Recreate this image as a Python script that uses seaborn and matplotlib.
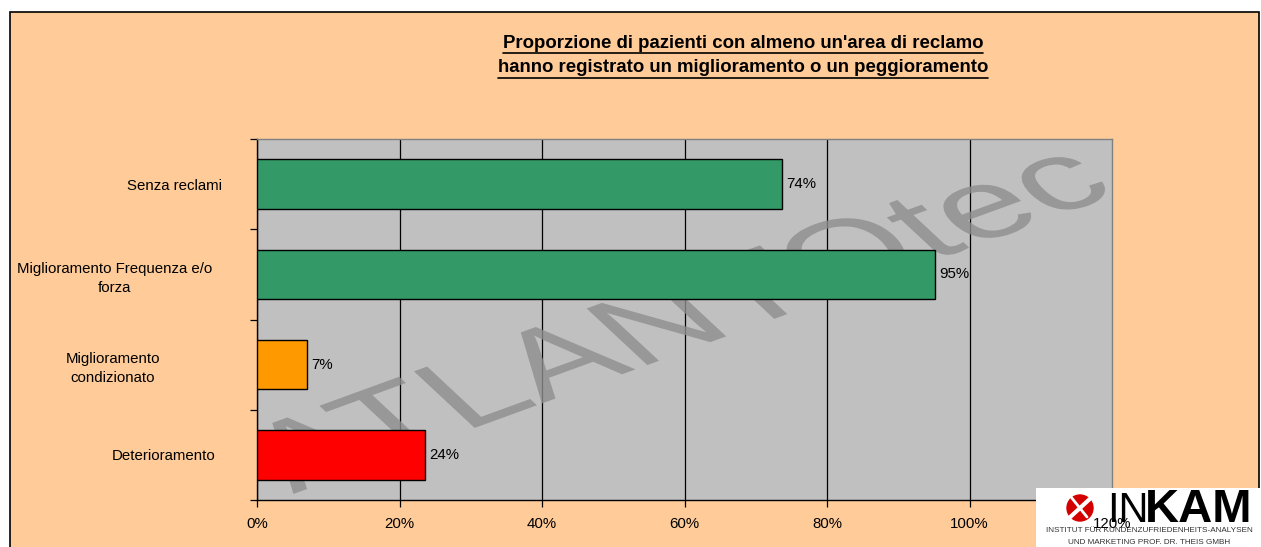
import seaborn as sns
import pandas as pd
import matplotlib.pyplot as plt
import matplotlib.transforms as mtransforms
from matplotlib.patches import Rectangle, Circle, PathPatch
from matplotlib.lines import Line2D
from matplotlib.textpath import TextPath
from matplotlib.font_manager import FontProperties

# ---------------------------------------- Data ---------------------------------------- #
categories = ["Senza reclami", "Miglioramento Frequenza e/o\nforza",
              "Miglioramento\ncondizionato", "Deterioramento"]
values = [0.737, 0.952, 0.070, 0.236]
bar_colors = ["#339966", "#339966", "#FF9900", "#FF0000"]
x_ticks = [0.0, 0.2, 0.4, 0.6, 0.8, 1.0, 1.2]
title_lines = ["Proporzione di pazienti con almeno un'area di reclamo",
               "hanno registrato un miglioramento o un peggioramento"]
watermark = "ATLANTOtec"
logo_lines = ["INSTITUT FÜR KUNDENZUFRIEDENHEITS-ANALYSEN",
              "UND MARKETING PROF. DR. THEIS GMBH"]

W, H = 1261, 547
fs = 10.8

sns.set_style("white")
plt.rcParams['font.family'] = ['Liberation Sans', 'DejaVu Sans']
plt.rcParams['text.color'] = 'black'
plt.rcParams['xtick.labelcolor'] = 'black'
plt.rcParams['ytick.labelcolor'] = 'black'

fig = plt.figure(figsize=(W / 100, H / 100), dpi=100)
fig.patch.set_facecolor("white")

# peach frame
fig.add_artist(Rectangle((10 / W, -0.05), 1249 / W, 1 - 12 / H + 0.05, transform=fig.transFigure,
                         facecolor="#FFCC99", edgecolor="black", lw=1.2, zorder=-10))

ax = fig.add_axes([257 / W, 47 / H, 855 / W, 361 / H])
ax.set_facecolor("#C0C0C0")

df = pd.DataFrame({"categoria": categories, "valore": values})
sns.barplot(data=df, y="categoria", x="valore", hue="categoria", palette=bar_colors,
            legend=False, width=0.55, edgecolor="black", linewidth=1, saturation=1,
            ax=ax, zorder=3)

for c in ax.containers:
    ax.bar_label(c, labels=["{:.0%}".format(v) for v in c.datavalues], padding=3, fontsize=fs)

ax.set_xlim(0, 1.2)
ax.set_ylim(3.5, -0.5)
ax.set_xticks(x_ticks[:-1])
ax.set_xticklabels(["{:.0%}".format(v) for v in x_ticks[:-1]], fontsize=fs)
ax.set_axisbelow(True)
ax.xaxis.grid(True, color="black", lw=0.9)
ax.yaxis.grid(False)
ax.tick_params(axis="x", length=5, width=0.9, color="black", pad=7, bottom=True, direction="out")

ax.set_yticks([-0.5, 0.5, 1.5, 2.5, 3.5], minor=True)
ax.tick_params(axis="y", which="minor", length=5, width=0.9, color="black", left=True)
ax.tick_params(axis="y", which="major", length=0, pad=25)
ax.set_yticklabels(categories, fontsize=fs, ha="right", multialignment="center", linespacing=1.45)
shifts = [0, -10, -62, -7]
for lbl, dx in zip(ax.get_yticklabels(), shifts):
    lbl.set_transform(lbl.get_transform() + mtransforms.ScaledTranslation(dx / 100, 0, fig.dpi_scale_trans))

ax.set_xlabel(None)
ax.set_ylabel(None)
for s in ["left", "bottom"]:
    ax.spines[s].set_color("black")
    ax.spines[s].set_linewidth(1)
for s in ["top", "right"]:
    ax.spines[s].set_color("#808080")
    ax.spines[s].set_linewidth(1)

# watermark: rotated, then stretched sideways (in pixels)
tp = TextPath((0, 0), watermark, size=97, prop=FontProperties(family="Liberation Sans"))
ext = tp.get_extents()
cx, cy = (ext.x0 + ext.x1) / 2, (ext.y0 + ext.y1) / 2
wm_tr = (mtransforms.Affine2D().translate(-cx, -cy).rotate_deg(32).scale(1.716, 1)
         + mtransforms.ScaledTranslation(0.488, 0.51, ax.transAxes))
wm = PathPatch(tp, transform=wm_tr, facecolor="#8E8E8E", edgecolor="none", alpha=0.8, zorder=2)
ax.add_artist(wm)
wm.set_clip_path(ax.patch)

# title with underline
renderer = fig.canvas.get_renderer()
for i, line in enumerate(title_lines):
    t = fig.text(743 / W, 1 - (43 + 25 * i) / H, line, ha="center", va="center",
                 fontsize=13.4, fontweight="bold")
    bb = t.get_window_extent(renderer).transformed(fig.transFigure.inverted())
    fig.add_artist(Line2D([bb.x0, bb.x1], [bb.y0 - 0.002] * 2, transform=fig.transFigure,
                          color="black", lw=1.2))

# logo box
lax = fig.add_axes([1036 / W, 0, 225 / W, 59 / H], zorder=2)
lax.set_xlim(0, 225)
lax.set_ylim(0, 59)
lax.axis("off")
lax.add_patch(Rectangle((0, 0), 225, 59, facecolor="white", edgecolor="none"))
lax.add_patch(Circle((44, 39), 13, color="#D40000"))
lax.plot([31, 57], [27, 51], color="white", lw=3)
lax.plot([35, 51], [50, 30], color="white", lw=2)
lax.text(71, 25, "IN", fontsize=30, color="black", va="baseline")
lax.text(109, 25, "KAM", fontsize=34, fontweight="bold", color="black", va="baseline")
lax.text(113, 16, logo_lines[0], fontsize=5.9, ha="center", va="center", color="#333333")
lax.text(113, 5, logo_lines[1], fontsize=5.9, ha="center", va="center", color="#333333")

# last tick label drawn over the logo
ax2 = fig.add_axes(ax.get_position(), zorder=3)
ax2.patch.set_visible(False)
ax2.set_xlim(0, 1.2)
ax2.set_xticks(x_ticks[-1:])
ax2.set_xticklabels(["{:.0%}".format(v) for v in x_ticks[-1:]], fontsize=fs)
ax2.tick_params(axis="x", length=5, pad=7, labelcolor="black", color=(0, 0, 0, 0))
ax2.set_yticks([])
for s in ax2.spines.values():
    s.set_visible(False)

plt.savefig("out.png", dpi=100)
